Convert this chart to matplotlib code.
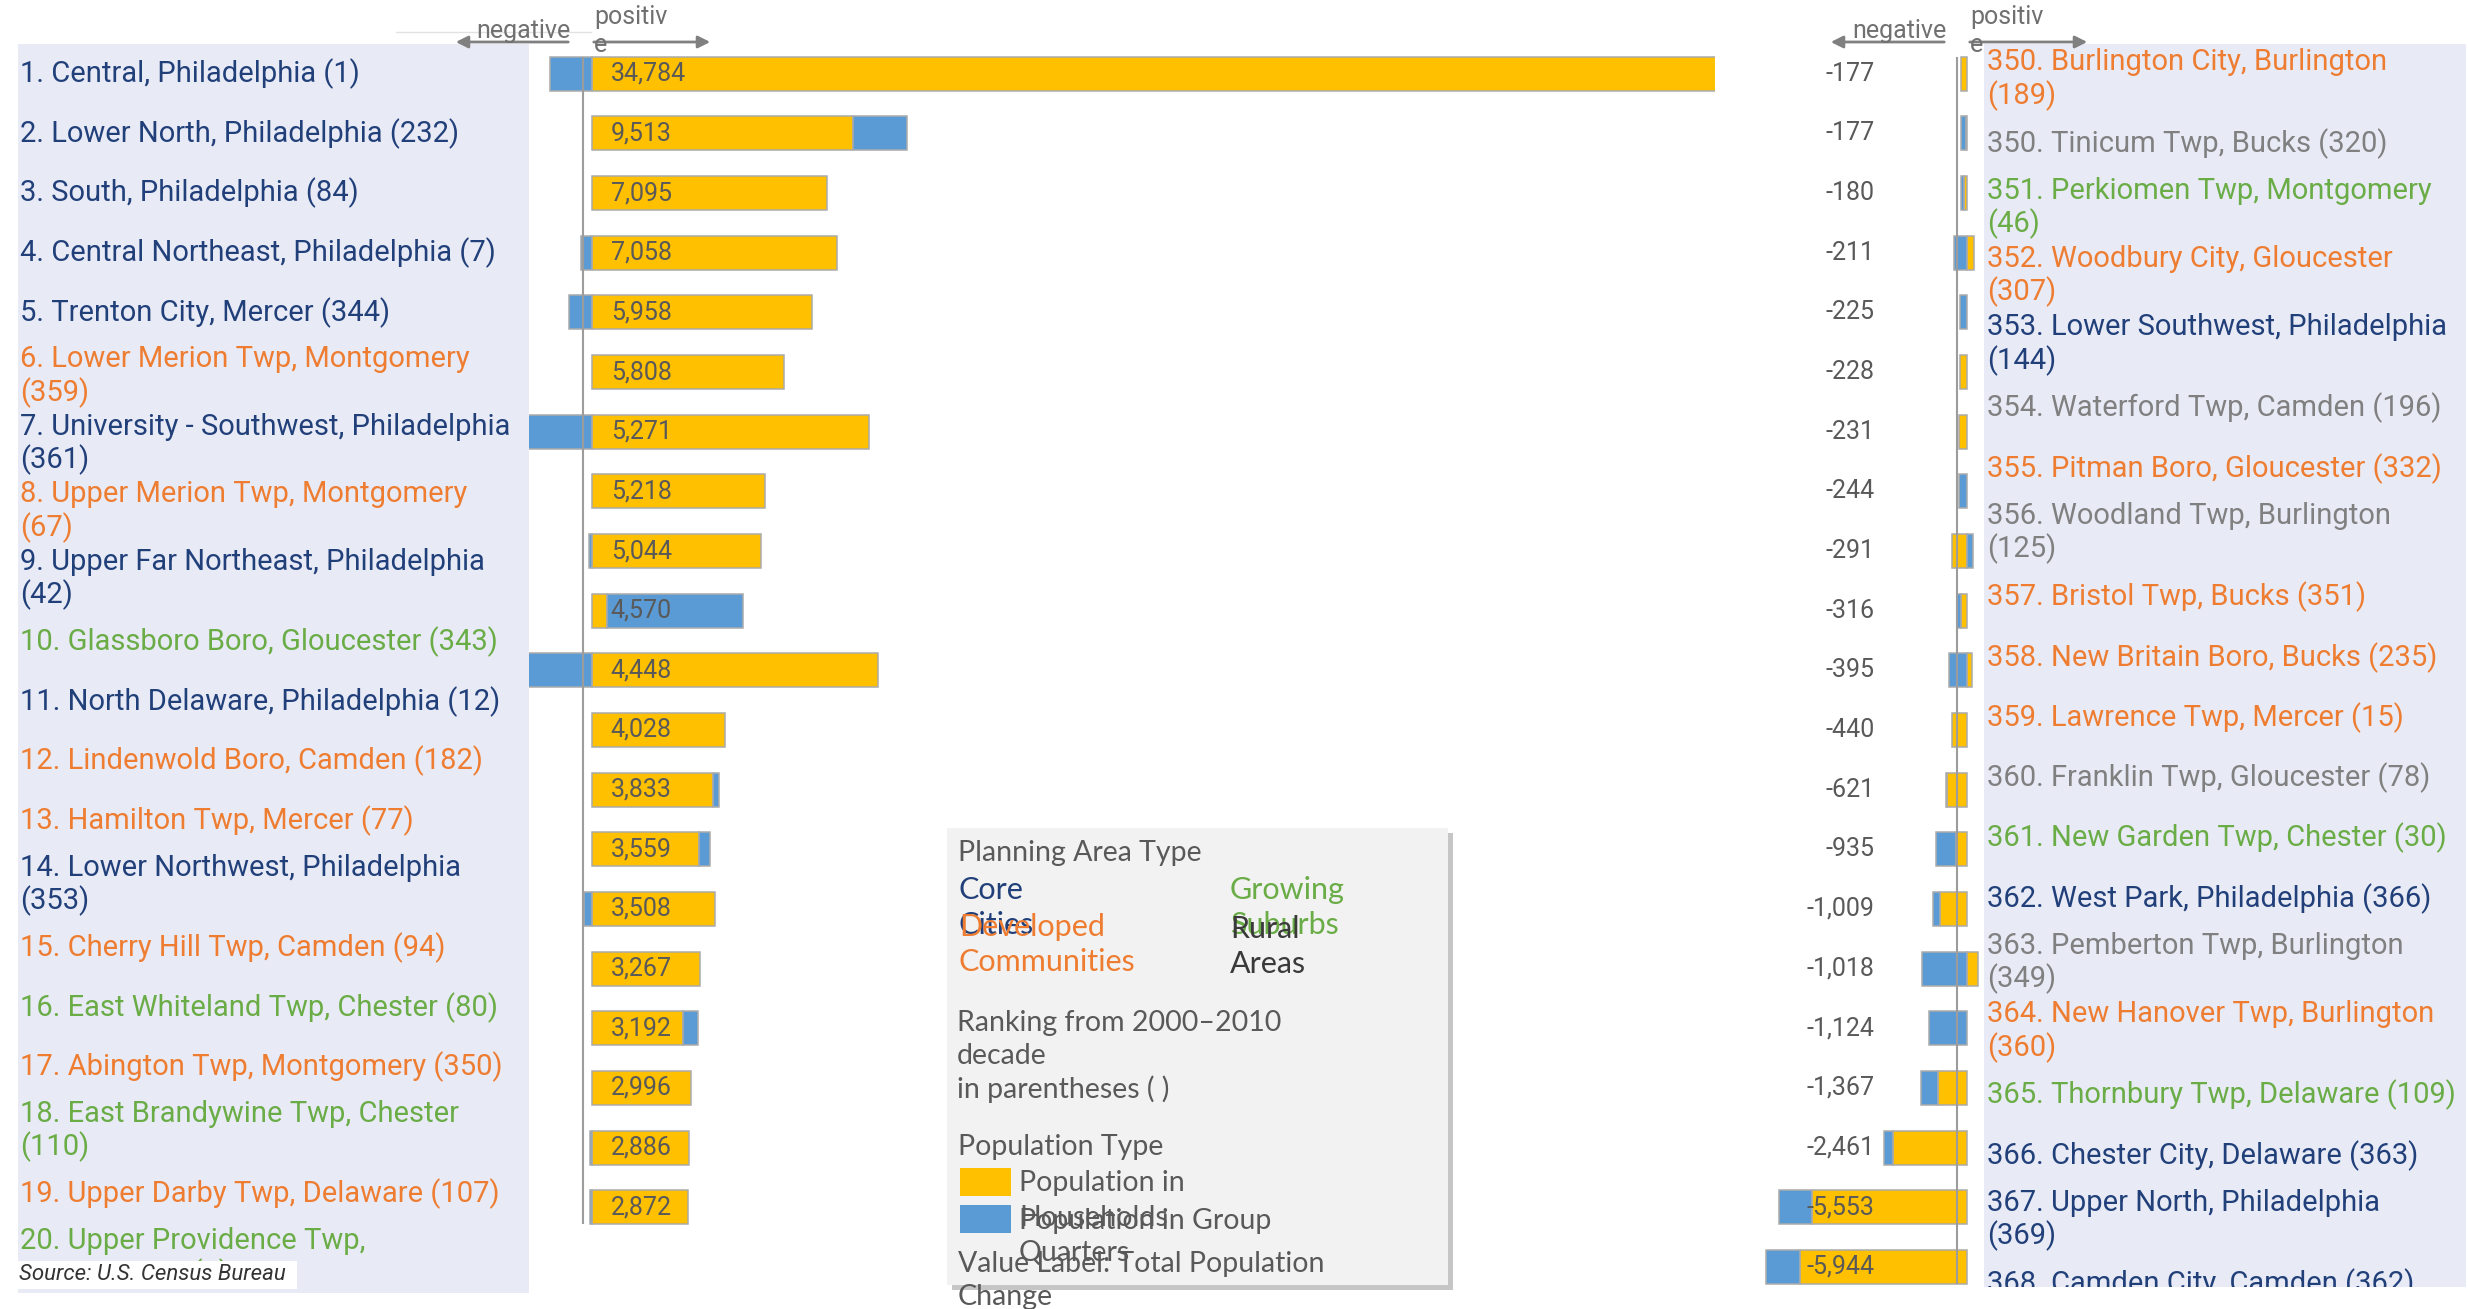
import matplotlib.pyplot as plt
from matplotlib import font_manager
from matplotlib.lines import Line2D
from matplotlib.patches import FancyArrowPatch, Rectangle
from matplotlib.transforms import Affine2D, offset_copy

W, H = 2468, 1309

# Biggest gains, 2010-2020 population change
gain_labels = [
    "1. Central, Philadelphia (1)",
    "2. Lower North, Philadelphia (232)",
    "3. South, Philadelphia (84)",
    "4. Central Northeast, Philadelphia (7)",
    "5. Trenton City, Mercer (344)",
    "6. Lower Merion Twp, Montgomery\n(359)",
    "7. University - Southwest, Philadelphia\n(361)",
    "8. Upper Merion Twp, Montgomery\n(67)",
    "9. Upper Far Northeast, Philadelphia\n(42)",
    "10. Glassboro Boro, Gloucester (343)",
    "11. North Delaware, Philadelphia (12)",
    "12. Lindenwold Boro, Camden (182)",
    "13. Hamilton Twp, Mercer (77)",
    "14. Lower Northwest, Philadelphia\n(353)",
    "15. Cherry Hill Twp, Camden (94)",
    "16. East Whiteland Twp, Chester (80)",
    "17. Abington Twp, Montgomery (350)",
    "18. East Brandywine Twp, Chester\n(110)",
    "19. Upper Darby Twp, Delaware (107)",
    "20. Upper Providence Twp,\nMontgomery (8)",
]
gain_types = ["core", "core", "core", "core", "core", "developed", "core",
              "developed", "core", "growing", "core", "developed", "developed",
              "core", "developed", "growing", "developed", "growing",
              "developed", "growing"]
gain_households = [36042, 7880, 7095, 7391, 6654, 5808, 8360, 5218, 5120, 470,
                   8630, 4028, 3670, 3240, 3729, 3267, 2750, 2996, 2930, 2920]
gain_group_quarters = [-1258, 1633, 0, -333, -696, 0, -3089, 0, -76, 4100,
                       -4182, 0, 163, 319, -221, 0, 442, 0, -44, -48]

# Biggest losses
loss_labels = [
    "350. Burlington City, Burlington\n(189)",
    "350. Tinicum Twp, Bucks (320)",
    "351. Perkiomen Twp, Montgomery\n(46)",
    "352. Woodbury City, Gloucester\n(307)",
    "353. Lower Southwest, Philadelphia\n(144)",
    "354. Waterford Twp, Camden (196)",
    "355. Pitman Boro, Gloucester (332)",
    "356. Woodland Twp, Burlington\n(125)",
    "357. Bristol Twp, Bucks (351)",
    "358. New Britain Boro, Bucks (235)",
    "359. Lawrence Twp, Mercer (15)",
    "360. Franklin Twp, Gloucester (78)",
    "361. New Garden Twp, Chester (30)",
    "362. West Park, Philadelphia (366)",
    "363. Pemberton Twp, Burlington\n(349)",
    "364. New Hanover Twp, Burlington\n(360)",
    "365. Thornbury Twp, Delaware (109)",
    "366. Chester City, Delaware (363)",
    "367. Upper North, Philadelphia\n(369)",
    "368. Camden City, Camden (362)",
]
loss_types = ["developed", "rural", "growing", "developed", "core", "rural",
              "developed", "rural", "developed", "developed", "developed",
              "rural", "growing", "core", "rural", "developed", "growing",
              "core", "core", "core"]
loss_households = [-177, -37, -90, 194, 0, -228, -231, 0, -448, -200, 140,
                   -440, -600, -340, -810, 330, 0, -857, -2186, -4600, -4941]
loss_group_quarters = [0, -140, -90, -405, -225, 0, 0, -244, 157, -116, -535,
                       0, -21, -595, -199, -1348, -1124, -510, -275, -953, -1003]

type_colors = {"core": "#21407a", "developed": "#ee7d31",
               "growing": "#6aac46", "rural": "#808080"}
HH_COLOR = "#ffc000"
GQ_COLOR = "#5b9bd5"
PANEL_BG = "#e8eaf6"
TEXT_GRAY = "#595959"


def pick_font(*names):
    installed = {f.name for f in font_manager.fontManager.ttflist}
    for name in names:
        if name in installed:
            return name
    return "DejaVu Sans"


SANS = pick_font("Roboto", "Open Sans")
BOOK = pick_font("Lato", "Open Sans")

fig = plt.figure(figsize=(W / 100, H / 100), dpi=100)
# pixel coordinates, origin top-left
pix = Affine2D().scale(1 / W, -1 / H).translate(0, 1) + fig.transFigure


def add_axes_px(x0, y0, x1, y1):
    ax = fig.add_axes([x0 / W, 1 - y1 / H, (x1 - x0) / W, (y1 - y0) / H])
    ax.set_xticks([])
    ax.set_yticks([])
    for s in ax.spines.values():
        s.set_visible(False)
    return ax


ROW_PITCH = 59.65
TOP = 44


def draw_bars(ax, households, group_quarters, line_shift, label_shift, ha):
    n = len(households)
    for i in range(n):
        pos, neg = 0, 0
        for v, c in ((households[i], HH_COLOR), (group_quarters[i], GQ_COLOR)):
            if v == 0:
                continue
            left = pos if v > 0 else neg
            ax.barh(i, v, left=left, height=0.57, color=c,
                    edgecolor="#ababab", linewidth=1.1)
            if v > 0:
                pos += v
            else:
                neg += v
        total = households[i] + group_quarters[i]
        ax.annotate(f"{total:,}", xy=(0, i), xytext=(label_shift, 0),
                    textcoords="offset pixels", ha=ha, va="center",
                    fontsize=18, color=TEXT_GRAY, family=SANS, zorder=5)
    ax.set_ylim(n - 0.5, -0.5)
    shifted = offset_copy(ax.transData, fig=fig, x=line_shift, y=0, units="dots")
    ax.vlines(0, -0.28, n - 1 + 0.28, transform=shifted,
              color="#9c9c9c", lw=1.5, zorder=4)
    ax.patch.set_alpha(0)


def draw_labels(ax, labels, types, x, top, h1, h2):
    y = top
    for text, kind in zip(labels, types):
        lines = text.split("\n")
        h = h1 if len(lines) == 1 else h2
        mid = y + h / 2
        for k, line in enumerate(lines):
            ly = mid + (k - (len(lines) - 1) / 2) * 33
            ax.text(x, ly, line, transform=pix, ha="left", va="center",
                    fontsize=21, color=type_colors[kind], family=SANS,
                    clip_on=True)
        y += h


def draw_header(x_zero, x_neg, x_pos):
    arrow_kw = dict(transform=pix, arrowstyle="-|>", mutation_scale=18,
                    color="#808080", lw=2)
    fig.add_artist(FancyArrowPatch((x_zero - 20, 42), (x_neg, 42), **arrow_kw))
    fig.add_artist(FancyArrowPatch((x_zero, 42), (x_pos, 42), **arrow_kw))
    fig.text(x_zero - 20, 31, "negative", transform=pix, ha="right",
             va="center", fontsize=18, color="#707070", family=SANS)
    fig.text(x_zero + 3, 17, "positiv", transform=pix, ha="left",
             va="center", fontsize=18, color="#707070", family=SANS)
    fig.text(x_zero + 3, 45, "e", transform=pix, ha="left",
             va="center", fontsize=18, color="#707070", family=SANS)


# left: gains
left_names = add_axes_px(18, 44, 529, 1293)
left_names.set_facecolor(PANEL_BG)
draw_labels(left_names, gain_labels, gain_types, 20, TOP, 59.6, 67.5)

left_bars = add_axes_px(529, TOP, 1715, TOP + len(gain_households) * ROW_PITCH)
left_bars.set_xlim(-1892, 33890)
draw_bars(left_bars, gain_households, gain_group_quarters, -9, 19, "left")

fig.add_artist(Line2D([396, 591], [32, 32], transform=pix, color="#e2e2e2", lw=1))
draw_header(591, 453, 713)

# right: losses
right_names = add_axes_px(1984, 44, 2466, 1287)
right_names.set_facecolor(PANEL_BG)
draw_labels(right_names, loss_labels, loss_types, 1987, 44.85, 60.3, 68.2)

right_bars = add_axes_px(1740, TOP, 1984, TOP + len(loss_households) * ROW_PITCH)
right_bars.set_xlim(-6712, 493)
draw_bars(right_bars, loss_households, loss_group_quarters, -10, -93, "right")

draw_header(1967, 1828, 2090)

# source note
fig.add_artist(Rectangle((16, 1261), 281, 28, transform=pix, fc="white",
                         ec="none", zorder=5))
fig.text(19, 1275, "Source: U.S. Census Bureau", transform=pix, ha="left",
         va="center", fontsize=16, style="italic", color="#333333",
         family=SANS, zorder=6)

# legend card
fig.add_artist(Rectangle((952, 833), 501, 457, transform=pix, fc="#c6c6c6",
                         ec="none", zorder=5))
fig.add_artist(Rectangle((947, 828), 501, 457, transform=pix, fc="#f2f2f2",
                         ec="none", zorder=5))


def legend_text(x, y, s, color=TEXT_GRAY, size=20.5):
    fig.text(x, y, s, transform=pix, ha="left", va="center", fontsize=size,
             color=color, family=BOOK, zorder=7)


legend_text(958, 853, "Planning Area Type")
area_types = [("core", ["Core", "Cities"], 959, 890),
              ("growing", ["Growing", "Suburbs"], 1230, 890),
              ("developed", ["Developed", "Communities"], 959, 927),
              ("rural", ["Rural", "Areas"], 1230, 929)]
for kind, words, x, y in area_types:
    color = "#3a3a3a" if kind == "rural" else type_colors[kind]
    for k, w in enumerate(words):
        legend_text(x, y + k * 35, w, color, 22)

for k, line in enumerate(["Ranking from 2000\u20132010", "decade",
                          "in parentheses ( )"]):
    legend_text(957, 1023 + k * 33, line)

legend_text(958, 1147, "Population Type")
fig.add_artist(Rectangle((960, 1168), 51, 28, transform=pix, fc=HH_COLOR,
                         ec="none", zorder=6))
fig.add_artist(Rectangle((960, 1205), 51, 28, transform=pix, fc=GQ_COLOR,
                         ec="none", zorder=6))
legend_text(1019, 1183, "Population in")
legend_text(1019, 1218, "Households")
legend_text(1019, 1221, "Population in Group")
legend_text(1019, 1253, "Quarters")
legend_text(958, 1264, "Value Label: Total Population")
legend_text(958, 1297, "Change")

fig.savefig("out.png", dpi=100)
